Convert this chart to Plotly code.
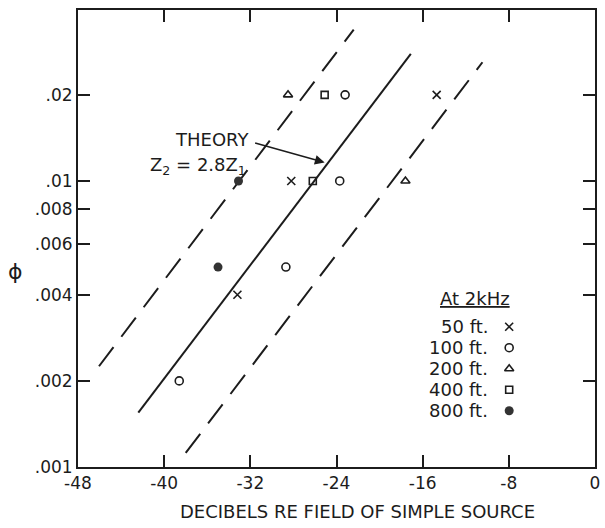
import math
import plotly.graph_objects as go

# Measured attenuation data at 2 kHz, grouped by range
ft50_db = [-14.7, -28.2, -33.2]
ft50_phi = [0.02, 0.01, 0.004]
ft100_db = [-23.2, -23.7, -28.7, -38.6]
ft100_phi = [0.02, 0.01, 0.005, 0.002]
ft200_db = [-28.5, -17.6]
ft200_phi = [0.02, 0.01]
ft400_db = [-25.1, -26.2]
ft400_phi = [0.02, 0.01]
ft800_db = [-33.1, -35.0]
ft800_phi = [0.01, 0.005]

# Theory line (Z2 = 2.8 Z1) and the bounding dashed lines
theory_db = [-42.4, -17.1]
theory_phi = [0.00155, 0.0278]
upper_db = [-46.05, -22.4]
upper_phi = [0.00225, 0.0338]
lower_db = [-38.0, -10.45]
lower_phi = [0.00112, 0.026]

x_ticks = [-48, -40, -32, -24, -16, -8, 0]
y_ticks = [0.001, 0.002, 0.004, 0.006, 0.008, 0.01, 0.02]
y_tick_text = [".001", ".002", ".004", ".006", ".008", ".01", ".02"]

legend_labels = ["50 ft.", "100 ft.", "200 ft.", "400 ft.", "800 ft."]

INK = "#1c1c1c"
FONT = "DejaVu Sans"

fig = go.Figure()

line_style = dict(color=INK, width=2)
fig.add_trace(go.Scatter(x=theory_db, y=theory_phi, mode="lines", line=line_style))
fig.add_trace(go.Scatter(x=upper_db, y=upper_phi, mode="lines",
                         line=dict(color=INK, width=2, dash="24px,13px")))
fig.add_trace(go.Scatter(x=lower_db, y=lower_phi, mode="lines",
                         line=dict(color=INK, width=2, dash="24px,13px")))

marker_styles = [
    dict(symbol="x-thin-open", size=8, line=dict(color=INK, width=1.6)),
    dict(symbol="circle-open", size=8, line=dict(color=INK, width=1.6)),
    dict(symbol="triangle-up-open", size=8, line=dict(color=INK, width=1.6)),
    dict(symbol="square-open", size=7, line=dict(color=INK, width=1.6)),
    dict(symbol="circle", size=9, color="#333333", line=dict(width=0)),
]
series = [(ft50_db, ft50_phi), (ft100_db, ft100_phi), (ft200_db, ft200_phi),
          (ft400_db, ft400_phi), (ft800_db, ft800_phi)]
for (xs, ys), ms in zip(series, marker_styles):
    m = dict(ms)
    if "color" not in m:
        m["color"] = INK
    fig.add_trace(go.Scatter(x=xs, y=ys, mode="markers", marker=m))

# Key: symbols on an overlay axis spanning [0, 1]
key_x = 0.834
key_y0 = 0.307
key_step = 0.046
for i, ms in enumerate(marker_styles):
    m = dict(ms)
    if "color" not in m:
        m["color"] = INK
    fig.add_trace(go.Scatter(x=[key_x], y=[key_y0 - i * key_step], mode="markers",
                             marker=m, xaxis="x2", yaxis="y2"))
    fig.add_annotation(x=0.797, y=key_y0 - i * key_step, xref="paper", yref="paper",
                       text=legend_labels[i], showarrow=False, xanchor="right",
                       yanchor="middle", font=dict(family=FONT, size=18, color=INK))
fig.add_annotation(x=0.768, y=0.368, xref="paper", yref="paper",
                   text="<u>At 2kHz</u>", showarrow=False, xanchor="center",
                   yanchor="middle", font=dict(family=FONT, size=18, color=INK))

# Theory label and arrow
fig.add_annotation(x=0.334, y=0.716, xref="paper", yref="paper", text="THEORY",
                   showarrow=False, xanchor="right", yanchor="middle",
                   font=dict(family=FONT, size=18, color=INK))
fig.add_annotation(x=0.328, y=0.658, xref="paper", yref="paper",
                   text="Z<sub>2</sub> = 2.8Z<sub>1</sub>",
                   showarrow=False, xanchor="right", yanchor="middle",
                   font=dict(family=FONT, size=18, color=INK))
fig.add_annotation(x=-25.1, y=math.log10(0.0116), xref="x", yref="y", text="",
                   showarrow=True, ax=-71, ay=-20, arrowhead=2, arrowsize=1.3,
                   arrowwidth=1.5, arrowcolor=INK)

# Axis titles
fig.add_annotation(x=0.540, y=-0.098, xref="paper", yref="paper",
                   text="DECIBELS RE FIELD OF SIMPLE SOURCE", showarrow=False,
                   xanchor="center", yanchor="middle",
                   font=dict(family=FONT, size=18, color=INK))
fig.add_annotation(x=-0.121, y=0.427, xref="paper", yref="paper", text="ϕ",
                   showarrow=False, xanchor="center", yanchor="middle",
                   font=dict(family=FONT, size=22, color=INK))

axis_common = dict(showline=True, linecolor=INK, linewidth=2, mirror="ticks",
                   ticks="inside", ticklen=12, tickwidth=2, tickcolor=INK,
                   showgrid=False, zeroline=False,
                   tickfont=dict(family=FONT, size=17, color=INK))

fig.update_layout(
    width=605, height=528,
    margin=dict(l=78, r=5, t=10, b=61),
    paper_bgcolor="white", plot_bgcolor="white",
    showlegend=False,
    xaxis=dict(range=[-48, 0], tickvals=x_ticks, ticktext=[str(v) for v in x_ticks],
               **axis_common),
    yaxis=dict(type="log", range=[-3, math.log10(0.0396)], tickvals=y_ticks,
               ticktext=y_tick_text, ticklabelstandoff=0, **axis_common),
    xaxis2=dict(overlaying="x", range=[0, 1], visible=False),
    yaxis2=dict(overlaying="y", range=[0, 1], visible=False),
)

fig.write_html("out.html")
